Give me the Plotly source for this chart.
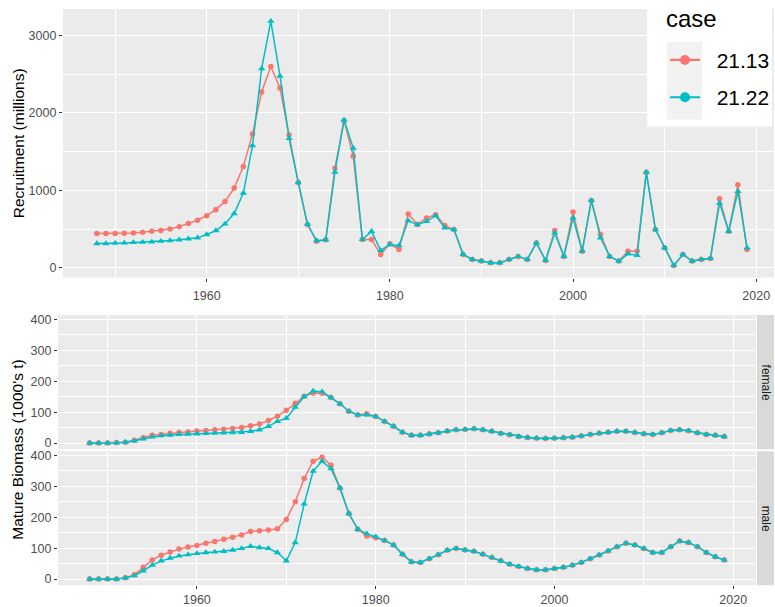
import plotly.graph_objects as go

years = list(range(1948, 2020))

# Recruitment (millions) by model case
rec_2113 = [441, 441, 441, 446, 450, 458, 471, 480, 501, 531, 570, 613, 673, 750, 857, 1029,
            1307, 1727, 2271, 2600, 2322, 1714, 1100, 557, 343, 360, 1286, 1900, 1440, 365,
            364, 171, 309, 236, 694, 557, 643, 686, 544, 493, 171, 107, 86, 64, 64, 107,
            146, 107, 321, 94, 480, 146, 720, 214, 870, 428, 146, 86, 214, 214, 1234, 493,
            257, 30, 171, 86, 107, 120, 891, 471, 1071, 236]
rec_2122 = [313, 313, 317, 321, 326, 330, 334, 343, 351, 360, 373, 386, 429, 480, 566, 699,
            964, 1577, 2571, 3185, 2477, 1671, 1100, 565, 350, 360, 1234, 1910, 1545, 365,
            470, 223, 300, 287, 608, 557, 600, 673, 514, 493, 171, 107, 86, 64, 64, 107,
            146, 107, 321, 94, 450, 146, 643, 214, 870, 386, 146, 86, 180, 159, 1234, 493,
            257, 30, 171, 86, 107, 120, 835, 471, 985, 257]

# Mature biomass (1000's t), female
fem_2113 = [0, 0, 0, 2, 3, 9, 17, 25, 28, 32, 34, 36, 39, 41, 43, 45, 47, 50, 56, 62, 73, 87,
            106, 129, 151, 162, 161, 147, 127, 103, 91, 95, 86, 70, 54, 35, 25, 25, 29, 33,
            39, 43, 44, 46, 43, 38, 31, 27, 21, 18, 16, 15, 16, 17, 19, 23, 28, 32, 35, 38,
            38, 34, 30, 28, 33, 41, 43, 40, 33, 28, 25, 21]
fem_2122 = [0, 0, 0, 1, 3, 7, 14, 20, 24, 26, 28, 29, 30, 31, 32, 33, 34, 35, 38, 43, 54, 70,
            80, 116, 150, 168, 166, 147, 127, 103, 91, 91, 86, 70, 54, 35, 25, 25, 29, 33,
            39, 43, 44, 46, 43, 38, 31, 27, 21, 18, 16, 15, 16, 17, 19, 23, 28, 32, 35, 38,
            38, 34, 30, 28, 33, 41, 43, 40, 33, 28, 25, 21]

# Mature biomass (1000's t), male
male_2113 = [0, 0, 0, 0, 4, 14, 38, 62, 77, 88, 97, 104, 109, 116, 122, 129, 135, 143, 154,
             156, 159, 163, 193, 250, 325, 381, 394, 368, 295, 212, 161, 139, 134, 125, 110,
             80, 56, 54, 66, 79, 93, 99, 94, 90, 80, 70, 59, 48, 41, 34, 30, 30, 34, 38, 45,
             54, 66, 78, 91, 105, 116, 110, 99, 86, 86, 105, 123, 118, 105, 86, 72, 62]
male_2122 = [0, 0, 0, 0, 4, 11, 27, 45, 59, 68, 75, 79, 83, 86, 88, 90, 94, 99, 106, 102, 99,
             86, 59, 118, 243, 349, 381, 357, 295, 212, 161, 147, 137, 125, 110, 80, 56, 54,
             66, 79, 93, 99, 94, 90, 80, 70, 59, 48, 41, 34, 30, 30, 34, 38, 45, 54, 66, 78,
             91, 105, 116, 110, 99, 86, 86, 105, 123, 118, 105, 86, 72, 62]

cases = ["21.13", "21.22"]
colors = {"21.13": "#F8766D", "21.22": "#00BFC4"}
symbols = {"21.13": "circle", "21.22": "triangle-up"}
msize = {"21.13": 5.5, "21.22": 6.5}

W, H = 775, 607
FONT = "Liberation Sans, Arial, sans-serif"
PANEL = "#EBEBEB"


def px(v):
    return v / W


def py(v):
    return 1 - v / H


fig = go.Figure()

series = [
    ("x", "y", {"21.13": rec_2113, "21.22": rec_2122}),
    ("x2", "y2", {"21.13": fem_2113, "21.22": fem_2122}),
    ("x3", "y3", {"21.13": male_2113, "21.22": male_2122}),
]
for xa, ya, data in series:
    for c in cases:
        fig.add_trace(go.Scatter(
            x=years, y=data[c], xaxis=xa, yaxis=ya, mode="lines+markers",
            line=dict(color=colors[c], width=1.5),
            marker=dict(symbol=symbols[c], size=msize[c], color=colors[c]),
            showlegend=False, hoverinfo="skip"))

# legend keys (one group per case so the row gap can be set)
for c in cases:
    fig.add_trace(go.Scatter(
        x=[None], y=[None], mode="lines+markers", name="\u00a0\u00a0" + c, legendgroup=c,
        line=dict(color=colors[c], width=2.2),
        marker=dict(symbol="circle", size=10, color=colors[c]),
        showlegend=True))

tick_font = dict(family=FONT, size=12.5, color="#4D4D4D")
common_x = dict(
    tickvals=[1960, 1980, 2000, 2020], ticks="outside", ticklen=3, tickwidth=1,
    tickcolor="#333333", showgrid=True, gridcolor="white", gridwidth=1.1,
    zeroline=False, showline=False, tickfont=tick_font,
    minor=dict(tickvals=[1950, 1970, 1990, 2010], showgrid=True,
               gridcolor="white", gridwidth=0.55, ticks=""),
)
common_y = dict(
    ticks="outside", ticklen=3, tickwidth=1, tickcolor="#333333",
    showgrid=True, gridcolor="white", gridwidth=1.1, zeroline=False,
    showline=False, tickfont=tick_font,
)

top_range = [1944.3, 1944.3 + (W - 63) / 9.17]
bot_range = [1944.45, 2022.55]

fig.update_layout(
    width=W, height=H, margin=dict(l=0, r=0, t=0, b=0),
    paper_bgcolor="white", plot_bgcolor=PANEL,
    font=dict(family=FONT),
    xaxis=dict(domain=[px(63), 1.0], range=top_range, anchor="y",
               ticklabelstandoff=3, **common_x),
    yaxis=dict(domain=[py(277), py(7)], range=[-128, 3343], anchor="x",
               tickvals=[0, 1000, 2000, 3000],
               minor=dict(tickvals=[500, 1500, 2500], showgrid=True,
                          gridcolor="white", gridwidth=0.55, ticks=""),
               **common_y),
    xaxis2=dict(domain=[px(58), px(757)], range=bot_range, anchor="y2",
                **{**common_x, "ticks": "", "showticklabels": False}),
    yaxis2=dict(domain=[py(449.4), py(314.6)], range=[-19.7, 413.7], anchor="x2",
                tickvals=[0, 100, 200, 300, 400],
                minor=dict(tickvals=[50, 150, 250, 350], showgrid=True,
                           gridcolor="white", gridwidth=0.55, ticks=""),
                **common_y),
    xaxis3=dict(domain=[px(58), px(757)], range=bot_range, anchor="y3", **common_x),
    yaxis3=dict(domain=[py(586.1), py(451.4)], range=[-19.7, 413.7], anchor="x3",
                tickvals=[0, 100, 200, 300, 400],
                minor=dict(tickvals=[50, 150, 250, 350], showgrid=True,
                           gridcolor="white", gridwidth=0.55, ticks=""),
                **common_y),
    legend=dict(
        x=px(666), y=py(38), xanchor="left", yanchor="top",
        bgcolor="rgba(0,0,0,0)", borderwidth=0,
        font=dict(family=FONT, size=21, color="black"),
        tracegroupgap=7, itemwidth=30,
    ),
    showlegend=True,
)

shapes = [
    # legend box and key background
    dict(type="rect", xref="paper", yref="paper", x0=px(648), x1=px(773),
         y0=py(125), y1=1.0, fillcolor="white", line=dict(width=0), layer="above"),
    dict(type="rect", xref="paper", yref="paper", x0=px(668), x1=px(703),
         y0=py(118), y1=py(40), fillcolor="#F2F2F2", line=dict(width=0), layer="above"),
    # facet strips
    dict(type="rect", xref="paper", yref="paper", x0=px(758), x1=1.0,
         y0=py(449.4), y1=py(314.6), fillcolor="#D9D9D9", line=dict(width=0)),
    dict(type="rect", xref="paper", yref="paper", x0=px(758), x1=1.0,
         y0=py(586.1), y1=py(451.4), fillcolor="#D9D9D9", line=dict(width=0)),
]
fig.update_layout(shapes=shapes)

title_font = dict(family=FONT, size=15.5, color="black")
strip_font = dict(family=FONT, size=12, color="#1A1A1A")
annotations = [
    dict(text="case", x=px(665), y=py(17), xref="paper", yref="paper",
         xanchor="left", yanchor="middle", showarrow=False,
         font=dict(family=FONT, size=24, color="black")),
    dict(text="Recruitment (millions)", x=px(18), y=py(142), xref="paper", yref="paper",
         xanchor="center", yanchor="middle",
         textangle=-90, showarrow=False, font=title_font),
    dict(text="Mature Biomass (1000's t)", x=px(18), y=py(450), xref="paper", yref="paper",
         xanchor="center", yanchor="middle",
         textangle=-90, showarrow=False, font=title_font),
    dict(text="female", x=px(766.5), y=py(382), xref="paper", yref="paper",
         xanchor="center", yanchor="middle",
         textangle=90, showarrow=False, font=strip_font),
    dict(text="male", x=px(766.5), y=py(518.7), xref="paper", yref="paper",
         xanchor="center", yanchor="middle",
         textangle=90, showarrow=False, font=strip_font),
]
fig.update_layout(annotations=annotations)

fig.write_html("out.html")
